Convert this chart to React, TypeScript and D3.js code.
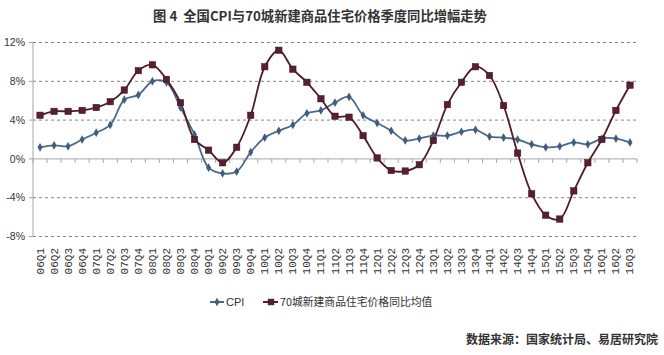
import React from "react";
import * as d3 from "d3";

const quarters = [
  "06Q1","06Q2","06Q3","06Q4","07Q1","07Q2","07Q3","07Q4",
  "08Q1","08Q2","08Q3","08Q4","09Q1","09Q2","09Q3","09Q4",
  "10Q1","10Q2","10Q3","10Q4","11Q1","11Q2","11Q3","11Q4",
  "12Q1","12Q2","12Q3","12Q4","13Q1","13Q2","13Q3","13Q4",
  "14Q1","14Q2","14Q3","14Q4","15Q1","15Q2","15Q3","15Q4",
  "16Q1","16Q2","16Q3",
];

const cpi = [
  1.2, 1.4, 1.3, 2.0, 2.7, 3.5, 6.1, 6.6,
  8.0, 7.9, 5.3, 2.5, -0.9, -1.5, -1.3, 0.7,
  2.2, 2.9, 3.5, 4.7, 5.0, 5.8, 6.4, 4.5,
  3.7, 2.9, 1.9, 2.1, 2.4, 2.4, 2.8, 3.0,
  2.3, 2.2, 2.0, 1.5, 1.2, 1.3, 1.7, 1.5,
  2.1, 2.1, 1.7,
];

const city70 = [
  4.5, 4.9, 4.9, 5.0, 5.3, 5.9, 7.1, 9.1,
  9.7, 8.2, 5.8, 2.0, 0.9, -0.4, 1.2, 4.5,
  9.5, 11.2, 9.25, 7.9, 6.2, 4.4, 4.3, 2.4,
  0.1, -1.2, -1.25, -0.6, 1.9, 5.6, 7.9, 9.5,
  8.6, 5.5, 0.6, -3.6, -5.8, -6.2, -3.3, -0.4,
  2.0, 5.0, 7.6,
];

const yTicks = [-8, -4, 0, 4, 8, 12];

const title = "图 4  全国CPI与70城新建商品住宅价格季度同比增幅走势";
const seriesNames = ["CPI", "70城新建商品住宅价格同比均值"];
const source = "数据来源：国家统计局、易居研究院";

const CPI_COLOR = "#4a6a8c";
const CPI_MARK = "#3f5d7d";
const RED_COLOR = "#4e1c26";
const RED_MARK = "#5a1f2d";

export default function App() {
  const W = 664, H = 355;
  const left = 33, right = 637, top = 42.5, bottom = 236.5;

  const x = d3.scaleBand<string>().domain(quarters).range([left, right]).paddingInner(0).paddingOuter(0);
  const y = d3.scaleLinear().domain([-8, 12]).range([bottom, top]);
  const cx = (q: string) => (x(q) as number) + x.bandwidth() / 2;

  const line = d3
    .line<number>()
    .x((_, i) => cx(quarters[i]))
    .y((v) => y(v))
    .curve(d3.curveCatmullRom.alpha(0.5));

  const boundaries = d3.range(quarters.length + 1).map((i) => left + i * x.bandwidth());
  const diamond = d3.symbol().type(d3.symbolDiamond).size(22)() as string;

  return (
    <svg width={W} height={H} style={{ display: "block", position: "absolute", left: 0, top: 0, background: "#fff" }}>
      <rect x={0} y={0} width={W} height={H} fill="#fff" />
      <text x={320} y={21} textAnchor="middle" fontFamily="'Noto Sans CJK SC', sans-serif" fontWeight="bold" fontSize={13.3} fill="#333" style={{ whiteSpace: "pre" }}>
        {title}
      </text>

      {/* gridlines */}
      {yTicks.filter((t) => t !== 0).map((t) => (
        <line key={t} x1={left} x2={right} y1={y(t)} y2={y(t)} stroke="#666" strokeWidth={0.8} strokeDasharray="3,3" />
      ))}

      {/* y axis */}
      <line x1={left} x2={left} y1={top} y2={bottom} stroke="#a6a6a6" strokeWidth={1} />
      {yTicks.map((t) => (
        <g key={t}>
          <line x1={left - 4} x2={left} y1={y(t)} y2={y(t)} stroke="#a6a6a6" />
          <text x={25} y={y(t)} dy="0.35em" textAnchor="end" fontFamily="'Liberation Sans', Arial, sans-serif" fontSize={10.5} fill="#333">
            {t}%
          </text>
        </g>
      ))}

      {/* x axis at 0 */}
      <line x1={left} x2={right} y1={y(0)} y2={y(0)} stroke="#a6a6a6" strokeWidth={1} />
      {boundaries.map((b, i) => (
        <line key={i} x1={b} x2={b} y1={y(0)} y2={y(0) + 4} stroke="#a6a6a6" />
      ))}

      {/* x labels */}
      {quarters.map((q) => (
        <text
          key={q}
          transform={`translate(${cx(q) + 3.5},248) rotate(-90)`}
          textAnchor="end"
          fontFamily="'Liberation Mono', 'DejaVu Sans Mono', monospace"
          fontSize={11}
          fill="#333"
        >
          {q}
        </text>
      ))}

      {/* series */}
      <path d={line(cpi) as string} fill="none" stroke={CPI_COLOR} strokeWidth={1.8} />
      <path d={line(city70) as string} fill="none" stroke={RED_COLOR} strokeWidth={1.8} />
      {cpi.map((v, i) => (
        <path key={"c" + i} d={diamond} transform={`translate(${cx(quarters[i])},${y(v)})`} fill={CPI_MARK} />
      ))}
      {city70.map((v, i) => (
        <rect key={"r" + i} x={cx(quarters[i]) - 3.2} y={y(v) - 3.2} width={6.4} height={6.4} fill={RED_MARK} stroke="#3a121b" strokeWidth={0.5} />
      ))}

      {/* legend */}
      <line x1={210} x2={224} y1={302} y2={302} stroke={CPI_COLOR} strokeWidth={2} />
      <path d={diamond} transform="translate(217,302)" fill={CPI_MARK} />
      <text x={226} y={302} dy="0.35em" fontFamily="'Liberation Sans Narrow', 'Liberation Sans', sans-serif" fontSize={11} fill="#333">
        {seriesNames[0]}
      </text>
      <line x1={263} x2={278} y1={302} y2={302} stroke={RED_COLOR} strokeWidth={2} />
      <rect x={267.8} y={298.8} width={6.4} height={6.4} fill={RED_MARK} />
      <text x={280} y={302} dy="0.35em" fontFamily="'Noto Sans CJK SC', sans-serif" fontSize={10.8} fill="#333">
        {seriesNames[1]}
      </text>

      <text x={658} y={344} textAnchor="end" fontFamily="'Noto Sans CJK SC', sans-serif" fontWeight="bold" fontSize={12} fill="#333">
        {source}
      </text>
    </svg>
  );
}
